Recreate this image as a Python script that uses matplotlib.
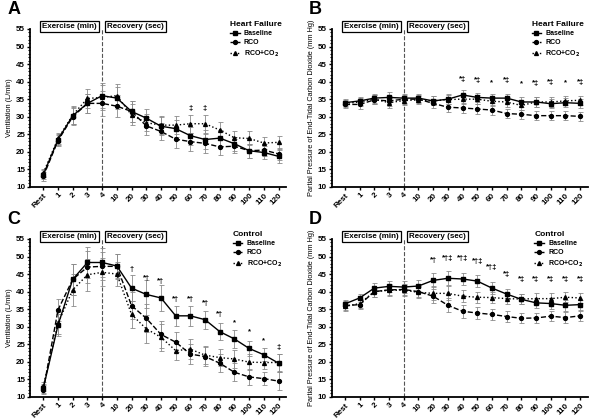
import numpy as np
import matplotlib
matplotlib.use('Agg')
from matplotlib import pyplot as plt
from matplotlib.ticker import MultipleLocator

plt.rcParams['font.family'] = ['Liberation Sans', 'DejaVu Sans']
plt.rcParams['font.weight'] = 'bold'

labels = ['Rest', '1', '2', '3', '4', '10', '20', '30', '40', '50', '60',
          '70', '80', '90', '100', '110', '120']

# Panel A - heart failure, ventilation
a_base = [13.5, 23.5, 30.3, 33.8, 36.0, 35.3, 31.5, 29.6, 27.3, 26.6, 24.6, 23.5, 23.9, 22.3, 20.3, 19.8, 18.7]
a_rco = [13.0, 23.2, 30.0, 33.8, 33.8, 33.0, 31.5, 27.4, 25.8, 23.6, 22.9, 22.4, 21.4, 21.6, 20.3, 20.5, 19.4]
a_co2 = [14.0, 23.8, 30.5, 35.2, 35.5, 36.0, 30.5, 28.3, 27.6, 27.6, 28.0, 28.0, 26.2, 24.0, 23.8, 22.5, 22.7]
a_err = [1.2, 1.5, 2.5, 2.8, 3.5, 3.2, 3.0, 2.5, 2.5, 2.5, 2.6, 2.6, 2.2, 2.0, 2.0, 1.8, 1.8]
a_ann = {10: '‡', 11: '‡'}
a_ann_y = {10: 32.3, 11: 32.3}

# Panel B - heart failure, PETCO2
b_base = [34.0, 34.5, 35.3, 35.5, 35.3, 35.3, 34.5, 35.0, 36.2, 35.5, 35.3, 35.3, 34.2, 34.2, 33.7, 34.0, 33.8]
b_rco = [33.5, 33.5, 34.8, 34.5, 35.0, 35.0, 33.8, 32.7, 32.5, 32.2, 31.9, 30.9, 30.7, 30.3, 30.3, 30.3, 30.1]
b_co2 = [33.8, 34.2, 35.0, 34.0, 34.6, 34.8, 34.5, 34.9, 35.0, 35.0, 34.4, 34.2, 33.2, 34.2, 34.2, 34.5, 34.7]
b_err = [1.0, 1.2, 1.3, 1.4, 1.3, 1.2, 1.3, 1.4, 1.4, 1.3, 1.3, 1.3, 1.3, 1.3, 1.3, 1.3, 1.3]
b_ann = {8: '*‡', 9: '*‡', 10: '*', 11: '*‡', 12: '*', 13: '*‡', 14: '*‡', 15: '*', 16: '*‡'}
b_ann_y = {8: 40.6, 9: 40.2, 10: 39.8, 11: 40.2, 12: 39.4, 13: 39.5, 14: 39.8, 15: 39.8, 16: 39.8}

# Panel C - control, ventilation
c_base = [12.5, 30.5, 43.5, 48.3, 48.3, 47.3, 41.0, 39.2, 38.2, 33.1, 33.1, 32.0, 28.6, 26.5, 23.8, 22.0, 19.6]
c_rco = [12.0, 34.8, 43.5, 47.0, 47.2, 47.2, 36.0, 32.4, 27.8, 25.6, 22.2, 21.5, 19.6, 17.0, 15.7, 15.2, 14.5]
c_co2 = [13.0, 31.0, 40.5, 44.8, 45.5, 45.0, 33.5, 29.4, 27.0, 23.2, 23.6, 21.9, 21.2, 20.8, 19.9, 19.8, 19.8]
c_err = [1.3, 3.2, 4.5, 4.5, 4.0, 3.5, 3.8, 4.0, 3.8, 2.8, 2.8, 2.6, 2.5, 2.6, 2.2, 1.8, 2.5]
c_ann = {6: '†', 7: '*†', 8: '*†', 9: '*†', 10: '*†', 11: '*†', 12: '*†', 13: '*', 14: '*', 15: '*', 16: '‡'}
c_ann_y = {6: 46.3, 7: 43.8, 8: 43.0, 9: 37.8, 10: 37.8, 11: 36.5, 12: 33.5, 13: 31.0, 14: 28.5, 15: 26.0, 16: 24.0}

# Panel D - control, PETCO2
d_base = [36.5, 38.2, 41.0, 41.5, 41.3, 41.6, 43.2, 43.8, 43.6, 43.0, 41.0, 39.3, 37.8, 36.8, 36.6, 36.1, 36.3]
d_rco = [36.0, 36.3, 40.0, 40.5, 40.6, 40.0, 38.7, 36.1, 34.4, 33.9, 33.5, 32.9, 32.4, 32.5, 33.0, 32.6, 33.1]
d_co2 = [35.8, 36.6, 40.0, 40.4, 40.4, 39.8, 39.5, 39.5, 38.7, 38.4, 38.3, 38.0, 37.9, 38.0, 38.0, 38.4, 38.2]
d_err = [1.2, 1.2, 1.4, 1.6, 1.6, 1.6, 2.0, 2.0, 1.8, 1.6, 1.6, 1.5, 1.4, 1.5, 1.5, 1.5, 1.4]
d_ann = {6: '*†', 7: '*†‡', 8: '*†‡', 9: '*†‡', 10: '*†‡', 11: '*‡', 12: '*‡', 13: '*‡', 14: '*‡', 15: '*‡', 16: '*‡'}
d_ann_y = {6: 49.0, 7: 49.5, 8: 49.5, 9: 48.5, 10: 46.8, 11: 45.0, 12: 43.5, 13: 43.5, 14: 43.5, 15: 43.5, 16: 43.5}

panels = [
    ('A', 'Heart Failure', 'Ventilation (L/min)', a_base, a_rco, a_co2, a_err, a_ann, a_ann_y),
    ('B', 'Heart Failure', 'Partial Pressure of End-Tidal Carbon Dioxide (mm Hg)', b_base, b_rco, b_co2, b_err, b_ann, b_ann_y),
    ('C', 'Control', 'Ventilation (L/min)', c_base, c_rco, c_co2, c_err, c_ann, c_ann_y),
    ('D', 'Control', 'Partial Pressure of End-Tidal Carbon Dioxide (mm Hg)', d_base, d_rco, d_co2, d_err, d_ann, d_ann_y),
]

boxes = [[0.050, 0.555, 0.425, 0.376], [0.551, 0.555, 0.425, 0.376],
         [0.050, 0.055, 0.425, 0.376], [0.551, 0.055, 0.425, 0.376]]

fig = plt.figure(figsize=(6.02, 4.2), dpi=100)
x = np.arange(len(labels))

for box, (letter, group, ylab, base, rco, co2, err, ann, ann_y) in zip(boxes, panels):
    ax = fig.add_axes(box)
    series = [(base, '-', 's', 'Baseline'), (rco, '--', 'o', 'RCO'),
              (co2, ':', '^', 'RCO+CO$_2$')]
    for vals, ls, mk, name in series:
        ax.errorbar(x, vals, yerr=err, fmt='none', ecolor='#8a8a8a', elinewidth=0.6,
                    capsize=1.8, capthick=0.6, zorder=1)
        ax.plot(x, vals, ls=ls, marker=mk, color='black', lw=1.0, ms=2.8, label=name, zorder=3)
    for k, s in ann.items():
        ax.text(x[k], ann_y[k], s, ha='center', va='center', fontsize=5.5)
    ax.axvline(4, color='#555555', ls='--', lw=0.8, zorder=0)
    ax.set_xlim(-0.9, 16.5)
    ax.set_ylim(10, 55)
    ax.yaxis.set_major_locator(MultipleLocator(5))
    ax.yaxis.set_minor_locator(MultipleLocator(1))
    ax.set_xticks(x)
    ax.set_xticklabels(labels, rotation=45, ha='right', rotation_mode='anchor', fontsize=5.8)
    ax.tick_params(axis='y', labelsize=5.8, width=1, length=2.5, pad=1)
    ax.tick_params(axis='y', which='minor', width=0.8, length=1.5)
    ax.tick_params(axis='x', width=1, length=2.5, pad=1)
    ax.set_ylabel(ylab, fontsize=5.3, labelpad=2)
    for sp in ['top', 'right']:
        ax.spines[sp].set_visible(False)
    for sp in ['left', 'bottom']:
        ax.spines[sp].set_linewidth(1.3)
    bb = dict(boxstyle='square,pad=0.25', fc='white', ec='black', lw=0.9)
    ax.text(3.65, 55.6, 'Exercise (min)', ha='right', va='center', fontsize=5.8, bbox=bb)
    ax.text(4.35, 55.6, 'Recovery (sec)', ha='left', va='center', fontsize=5.8, bbox=bb)
    leg = ax.legend(loc='upper right', bbox_to_anchor=(1.0, 1.075), frameon=False, fontsize=5,
                    title=group, title_fontproperties={'size': 6, 'weight': 'bold'},
                    handlelength=1.4, handletextpad=0.6, labelspacing=0.3, borderaxespad=0.2)
    leg._legend_box.align = 'left'
    ax.text(-0.09, 1.07, letter, transform=ax.transAxes, fontsize=13, fontweight='bold',
            ha='left', va='bottom')

plt.savefig('out.png', dpi=100)
